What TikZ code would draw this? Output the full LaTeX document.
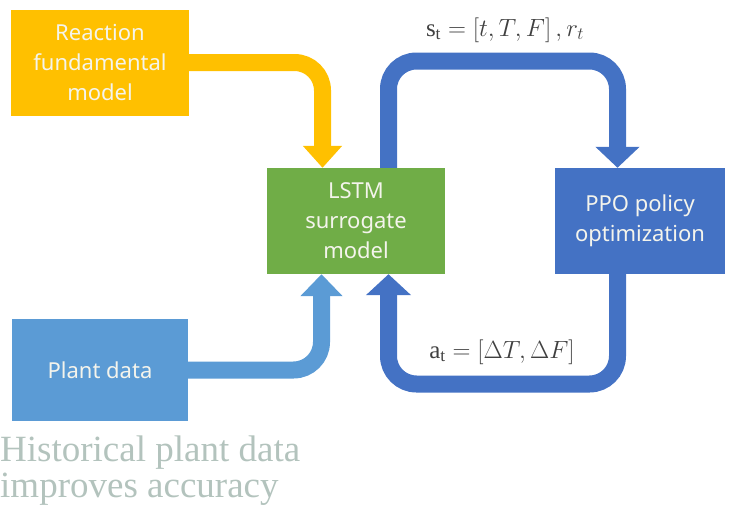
\documentclass[tikz,border=0pt]{standalone}
\usepackage{fontspec}
\setmainfont{Liberation Serif}
\setsansfont{Noto Sans}
\usetikzlibrary{arrows.meta}

\definecolor{yel}{HTML}{FFC000}
\definecolor{grn}{HTML}{70AD47}
\definecolor{blu}{HTML}{4472C4}
\definecolor{lblu}{HTML}{5B9BD5}
\definecolor{boxtext}{HTML}{F4F4EC}
\definecolor{labtext}{HTML}{404040}
\definecolor{capgray}{HTML}{B3C3BD}

\tikzset{
  box/.style={minimum width=178pt, minimum height=106pt, inner sep=0pt,
    align=center, text=boxtext,
    font=\sffamily\fontsize{22}{30}\selectfont},
  flow/.style={line width=17pt, rounded corners=28pt},
  eqlabel/.style={text=labtext, font=\fontsize{25}{28}\selectfont, inner sep=0pt},
}

\begin{document}
\begin{tikzpicture}[x=1pt, y=-1pt]
\useasboundingbox (0,0) rectangle (734,509);

% process blocks
\node[box, fill=yel]  (react) at (100,62.5) {Reaction\\fundamental\\model};
\node[box, fill=grn]  (lstm)  at (356,221)  {LSTM\\surrogate\\model};
\node[box, fill=blu, minimum width=170pt] (ppo) at (640,221) {PPO policy\\optimization};
\node[box, fill=lblu, minimum width=176pt, minimum height=102pt] (plant) at (100,370) {Plant data};

% bend points of the wide flow arrows
\coordinate (yx) at (322.5,62.5);
\coordinate (tl) at (388.5,61);
\coordinate (tr) at (617.5,61);
\coordinate (bl) at (388.5,384);
\coordinate (br) at (617.5,384);
\coordinate (px) at (321.5,370);

% first-principles model feeds the surrogate
\draw[flow, draw=yel, -{Triangle[width=38pt,length=22pt]}]
  (react.east) -- (yx) -- (yx |- lstm.north);

% historical plant data feeds the surrogate
\draw[flow, draw=lblu, -{Triangle[width=41pt,length=22pt]}]
  (plant.east) -- (px) -- (px |- lstm.south);

% state and reward to the policy
\draw[flow, draw=blu, -{Triangle[width=43pt,length=21pt]}]
  (lstm.north -| tl) -- (tl) -- (tr) -- (ppo.north -| tr);

% action back to the surrogate
\draw[flow, draw=blu, -{Triangle[width=44pt,length=21pt]}]
  (ppo.south -| br) -- (br) -- (bl) -- (lstm.south -| bl);

% loop labels
\node[eqlabel] (slab) at (505,30) {$\mathrm{s}_{\mathrm{t}}=[t,T,F]\,,r_t$};
\node[eqlabel] (alab) at (502,352) {$\mathrm{a}_{\mathrm{t}}=[\Delta T,\Delta F]$};

% caption
\node[anchor=base west, inner sep=0pt, align=left, text=capgray,
      font=\fontsize{37}{36}\selectfont] (cap) at (0,497)
  {Historical plant data\\improves accuracy};
\end{tikzpicture}
\end{document}
